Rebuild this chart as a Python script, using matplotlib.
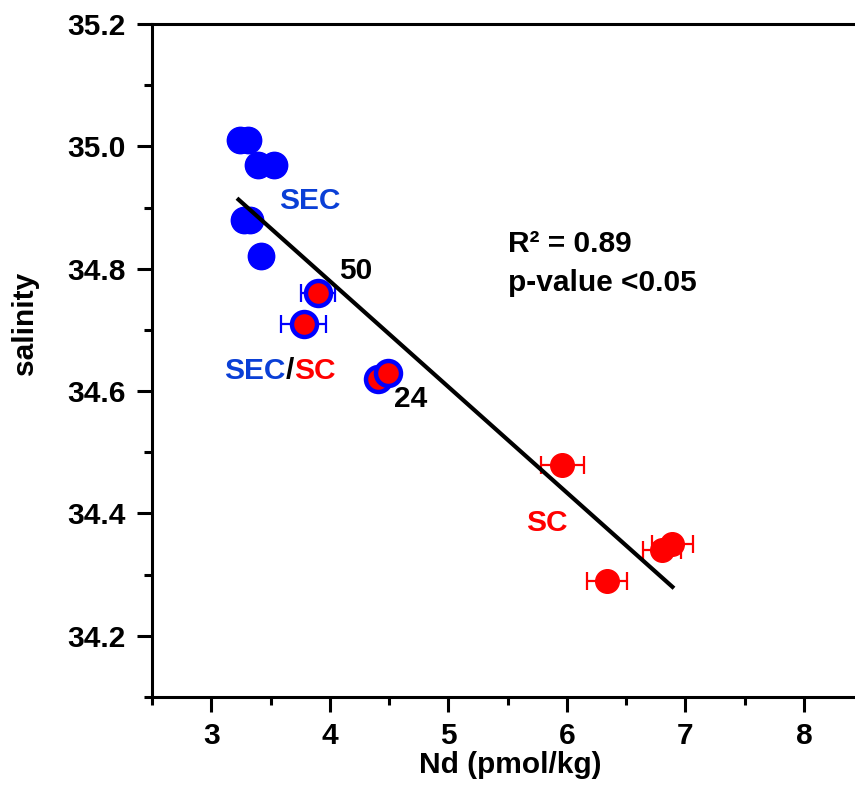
import matplotlib
matplotlib.use('Agg')
import matplotlib.pyplot as plt
from matplotlib.ticker import MultipleLocator

plt.rcParams['font.family'] = ['Liberation Sans', 'DejaVu Sans']
plt.rcParams['font.weight'] = 'bold'

# SEC samples (blue)
sec_x = [3.24, 3.31, 3.39, 3.53, 3.28, 3.33, 3.42]
sec_y = [35.01, 35.01, 34.97, 34.97, 34.88, 34.88, 34.82]

# SEC/SC mixed samples
mix_x = [3.90, 3.78, 4.41, 4.49]
mix_y = [34.76, 34.71, 34.62, 34.63]
mix_err = [0.14, 0.19, 0.0, 0.0]

# SC samples (red)
sc_x = [5.96, 6.34, 6.89, 6.80]
sc_y = [34.48, 34.29, 34.35, 34.34]
sc_err = [0.18, 0.17, 0.17, 0.16]

# regression line ends
fit_x = [3.23, 6.89]
fit_y = [34.913, 34.28]

blue = '#0000ff'
red = '#ff0000'
txt_blue = '#0a3fd6'
fs = 21.5

fig = plt.figure(figsize=(8.55, 7.85), dpi=100)
ax = fig.add_axes([152 / 855, 1 - 697 / 785, 1 - 152 / 855, (697 - 24) / 785])

# error bars first, markers on top
ax.errorbar(mix_x, mix_y, xerr=mix_err, fmt='none', ecolor=blue, elinewidth=1.6,
            capsize=6.5, capthick=1.6, zorder=2)
ax.errorbar(sc_x, sc_y, xerr=sc_err, fmt='none', ecolor=red, elinewidth=1.6,
            capsize=6.5, capthick=1.6, zorder=2)
ax.plot(sec_x, sec_y, 'o', color=blue, ms=19, mec=blue, zorder=3)
ax.plot(mix_x, mix_y, 'o', mfc=red, mec=blue, ms=18, mew=3.2, zorder=3)
ax.plot(sc_x, sc_y, 'o', mfc=red, mec=red, ms=17, zorder=3)
ax.plot(fit_x, fit_y, color='black', lw=3, zorder=4)

ax.set_xlim(2.5, 8.43)
ax.set_ylim(34.1, 35.2)
ax.xaxis.set_major_locator(MultipleLocator(1))
ax.xaxis.set_minor_locator(MultipleLocator(0.5))
ax.yaxis.set_major_locator(MultipleLocator(0.2))
ax.yaxis.set_minor_locator(MultipleLocator(0.1))
ax.set_xticks([3, 4, 5, 6, 7, 8])
ax.set_yticks([34.2, 34.4, 34.6, 34.8, 35.0, 35.2])
ax.set_yticklabels(['34.2', '34.4', '34.6', '34.8', '35.0', '35.2'])

ax.spines['right'].set_visible(False)
for s in ['left', 'bottom', 'top']:
    ax.spines[s].set_linewidth(2.2)
ax.tick_params(axis='both', which='major', direction='out', length=11, width=2.2,
               labelsize=fs, top=False, right=False)
ax.tick_params(axis='both', which='minor', direction='out', length=6, width=2.2,
               top=False, right=False)
ax.tick_params(axis='x', which='major', pad=7)
ax.tick_params(axis='y', which='major', pad=8)

fig.text(25 / 855, 1 - 323 / 785, 'salinity', rotation=90, ha='center', va='center',
         fontsize=fs, fontweight='bold')
fig.text(510 / 855, 1 - 765 / 785, 'Nd (pmol/kg)', ha='center', va='center',
         fontsize=fs, fontweight='bold')

ax.text(3.83, 34.911, 'SEC', color=txt_blue, fontsize=fs, ha='center', va='center')
t1 = ax.text(3.11, 34.633, 'SEC', color=txt_blue, fontsize=fs, ha='left', va='center')
t2 = ax.annotate('/', xy=(1, 0), xycoords=t1, color='black', fontsize=fs, va='bottom')
ax.annotate('SC', xy=(1, 0), xycoords=t2, color=red, fontsize=fs, va='bottom')
ax.text(5.83, 34.385, 'SC', color=red, fontsize=fs, ha='center', va='center')
ax.text(4.22, 34.797, '50', color='black', fontsize=fs, ha='center', va='center')
ax.text(4.68, 34.587, '24', color='black', fontsize=fs, ha='center', va='center')
ax.text(5.50, 34.841, 'R² = 0.89', color='black', fontsize=fs, ha='left', va='center')
ax.text(5.50, 34.777, 'p-value <0.05', color='black', fontsize=fs, ha='left', va='center')

fig.savefig('out.png', dpi=100)
